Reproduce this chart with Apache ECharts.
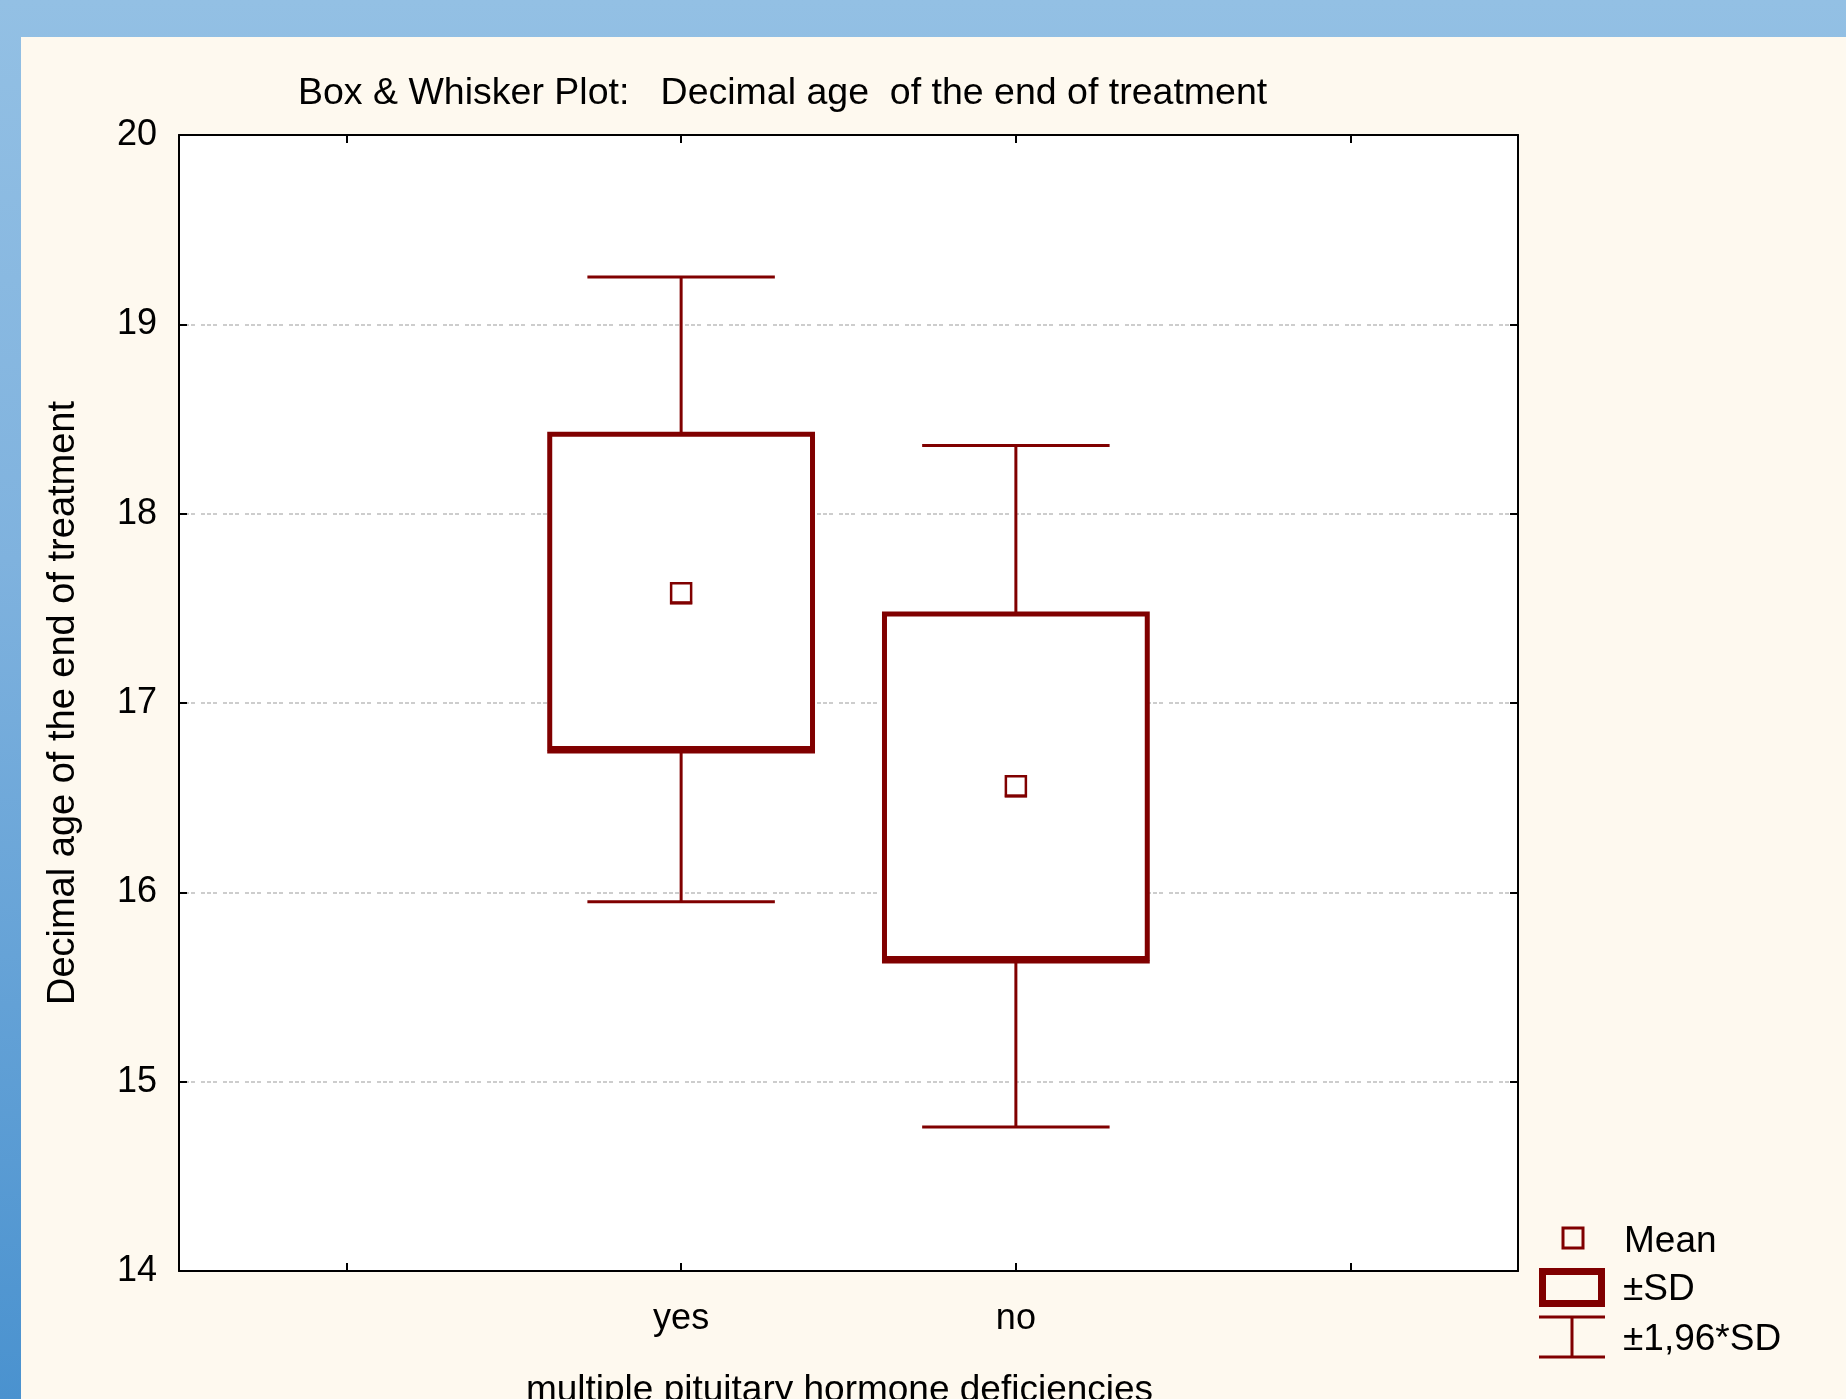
<!DOCTYPE html>
<html>
<head>
<meta charset="utf-8">
<script src="https://cdn.jsdelivr.net/npm/echarts@6/dist/echarts.min.js"></script>
<style>
    body { margin: 0; }
    #frame {
        position: relative;
        width: 1846px;
        height: 1399px;
        background: linear-gradient(to bottom, #93c0e4 0%, #7fb2de 40%, #4a92cf 100%);
        overflow: hidden;
    }
    #main {
        position: absolute;
        left: 21px;
        top: 37px;
        width: 1825px;
        height: 1362px;
    }
</style>
</head>
<body>
<div id="frame"><div id="main"></div></div>
<script>
// tick labels on the x axis (empty slots at both ends, like the original)
var axisCats = ['', 'yes', 'no', ''];
var groups = ['yes', 'no'];
// mean, mean±SD, mean±1.96*SD
var means = [17.58, 16.56];
var sdLow = [16.76, 15.65];
var sdHigh = [18.42, 17.47];
var ciLow = [15.95, 14.76];
var ciHigh = [19.25, 18.36];

var dark = '#800000';
var font = 'Liberation Sans, Arial, sans-serif';

var rows = [];
for (var i = 0; i < groups.length; i++) {
    rows.push([groups[i], ciLow[i], sdLow[i], means[i], sdHigh[i], ciHigh[i]]);
}

var renderBox = function (params, api) {
    var cat = api.value(0);
    var x = api.coord([cat, api.value(3)])[0];
    var band = api.size([1, 0])[0];
    var boxW = band * 0.785;
    var capW = band * 0.56;
    var y = function (idx) {
        return api.coord([cat, api.value(idx)])[1];
    };
    var yLo = y(1), ySdLo = y(2), yMean = y(3), ySdHi = y(4), yHi = y(5);
    var thin = { stroke: dark, lineWidth: 3 };
    return {
        type: 'group',
        children: [
            { type: 'line', shape: { x1: x, y1: yHi, x2: x, y2: ySdHi }, style: thin },
            { type: 'line', shape: { x1: x, y1: ySdLo, x2: x, y2: yLo }, style: thin },
            { type: 'line', shape: { x1: x - capW / 2, y1: yHi, x2: x + capW / 2, y2: yHi }, style: thin },
            { type: 'line', shape: { x1: x - capW / 2, y1: yLo, x2: x + capW / 2, y2: yLo }, style: thin },
            {
                type: 'rect',
                shape: { x: x - boxW / 2, y: ySdHi, width: boxW, height: ySdLo - ySdHi },
                style: { fill: '#fff', stroke: dark, lineWidth: 5 }
            },
            // heavier bottom edge, as drawn in the original
            { type: 'line', shape: { x1: x - boxW / 2 - 2.5, y1: ySdLo + 3.5, x2: x + boxW / 2 + 2.5, y2: ySdLo + 3.5 }, style: { stroke: dark, lineWidth: 3 } },
            {
                type: 'rect',
                shape: { x: x - 10, y: yMean - 10, width: 20, height: 20 },
                style: { fill: '#fff', stroke: dark, lineWidth: 2.5 }
            },
            { type: 'line', shape: { x1: x - 11, y1: yMean + 9.5, x2: x + 11, y2: yMean + 9.5 }, style: { stroke: dark, lineWidth: 3 } }
        ]
    };
};

var tickStyle = { show: true, inside: true, length: 8, alignWithLabel: true, lineStyle: { color: '#000', width: 2 } };
var lineStyle = { show: true, lineStyle: { color: '#000', width: 2 } };

var chart = echarts.init(document.getElementById('main'));
var option = {
    backgroundColor: '#fef9ef',
    animation: false,
    title: {
        text: 'Box & Whisker Plot:   Decimal age  of the end of treatment',
        left: 277,
        top: 38,
        padding: 0,
        textStyle: { fontFamily: font, fontSize: 37.5, fontWeight: 'normal', color: '#000' }
    },
    grid: {
        left: 158,
        top: 98,
        right: 328,
        bottom: 128,
        outerBoundsMode: 'none',
        containLabel: false,
        show: true,
        backgroundColor: '#fff',
        borderWidth: 0
    },
    xAxis: [{
        type: 'category',
        data: axisCats,
        position: 'bottom',
        axisLine: lineStyle,
        axisTick: tickStyle,
        axisLabel: { margin: 30, fontFamily: font, fontSize: 36, color: '#000' },
        name: 'multiple pituitary hormone deficiencies',
        nameLocation: 'middle',
        nameGap: 101,
        nameTextStyle: { fontFamily: font, fontSize: 37, color: '#000', padding: [0, 18, 0, 0] }
    }, {
        type: 'category',
        data: axisCats,
        position: 'top',
        axisLine: lineStyle,
        axisTick: tickStyle,
        axisLabel: { show: false }
    }],
    yAxis: [{
        type: 'value',
        min: 14,
        max: 20,
        interval: 1,
        position: 'left',
        axisLine: lineStyle,
        axisTick: tickStyle,
        axisLabel: { margin: 22, fontFamily: font, fontSize: 36, color: '#000', padding: [5, 0, 0, 0] },
        splitLine: { show: true, lineStyle: { color: '#bdbdbd', width: 1.5, type: [4, 2, 4, 2, 4, 6] } },
        name: 'Decimal age of the end of treatment',
        nameLocation: 'middle',
        nameGap: 96,
        nameTextStyle: { fontFamily: font, fontSize: 38, color: '#000' }
    }, {
        type: 'value',
        min: 14,
        max: 20,
        interval: 1,
        position: 'right',
        axisLine: lineStyle,
        axisTick: tickStyle,
        axisLabel: { show: false },
        splitLine: { show: false }
    }],
    series: [{
        type: 'custom',
        name: 'stats',
        renderItem: renderBox,
        encode: { x: 0, y: [1, 2, 3, 4, 5] },
        data: rows,
        z: 5
    }],
    graphic: [
        // legend
        { type: 'rect', shape: { x: 1542, y: 1191, width: 20, height: 20 }, style: { fill: 'none', stroke: dark, lineWidth: 3 } },
        { type: 'text', x: 1603, y: 1205, style: { text: 'Mean', font: '37px ' + font, fill: '#000', verticalAlign: 'middle' } },
        { type: 'rect', shape: { x: 1521.5, y: 1234.5, width: 59, height: 32 }, style: { fill: 'none', stroke: dark, lineWidth: 7 } },
        { type: 'text', x: 1602, y: 1253, style: { text: '±SD', font: '37px ' + font, fill: '#000', verticalAlign: 'middle' } },
        { type: 'line', shape: { x1: 1518, y1: 1280, x2: 1584, y2: 1280 }, style: { stroke: dark, lineWidth: 3 } },
        { type: 'line', shape: { x1: 1518, y1: 1320, x2: 1584, y2: 1320 }, style: { stroke: dark, lineWidth: 3 } },
        { type: 'line', shape: { x1: 1551, y1: 1280, x2: 1551, y2: 1320 }, style: { stroke: dark, lineWidth: 3 } },
        { type: 'text', x: 1602, y: 1303, style: { text: '±1,96*SD', font: '37px ' + font, fill: '#000', verticalAlign: 'middle' } }
    ]
};
chart.setOption(option);
</script>
</body>
</html>
